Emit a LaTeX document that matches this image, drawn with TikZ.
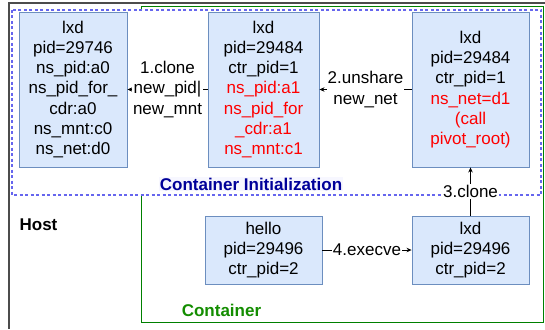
\documentclass[tikz,border=0pt]{standalone}
\usepackage{fontspec}
\setmainfont{Liberation Sans}
\usetikzlibrary{arrows.meta}
\definecolor{procfill}{HTML}{DAE8FC}
\definecolor{procline}{HTML}{6C8EBF}
\definecolor{initblue}{HTML}{6666EE}
\definecolor{initnavy}{HTML}{000099}
\definecolor{ctrgreen}{HTML}{008000}
\definecolor{nsred}{HTML}{FF0000}
\newcommand{\boxfont}{\fontsize{17}{20.3}\selectfont}
\tikzset{
  proc/.style={draw=procline, fill=procfill, line width=0.9pt, align=center,
    inner sep=0pt, font=\boxfont},
  call/.style={-{Stealth[length=5pt,width=4.5pt]}, line width=0.8pt},
  steplabel/.style={fill=white, inner sep=1pt, align=center, font=\boxfont},
  areatitle/.style={inner sep=1pt, font=\boxfont\bfseries}
}
\begin{document}
\begin{tikzpicture}[x=1pt,y=-1pt]
\useasboundingbox (0,0) rectangle (545,329);
% frames
\draw[black!70, line width=1.2pt] (545,3) -- (9,3) -- (9,329);
\draw[ctrgreen, line width=1pt] (141,6.5) rectangle (543,322);
\draw[initblue, fill=white, line width=1.2pt, dash pattern=on 3pt off 2.5pt] (12,10) rectangle (541,195);
% processes
\node[proc, minimum width=108pt, minimum height=155pt] (host) at (73,89.5)
  {lxd\\pid=29746\\ns\_pid:a0\\ns\_pid\_for\_\\cdr:a0\\ns\_mnt:c0\\ns\_net:d0};
\node[proc, minimum width=111pt, minimum height=155pt] (child) at (263.5,89.5)
  {lxd\\pid=29484\\ctr\_pid=1\\\textcolor{nsred}{ns\_pid:a1}\\\textcolor{nsred}{ns\_pid\_for}\\\textcolor{nsred}{\_cdr:a1}\\\textcolor{nsred}{ns\_mnt:c1}};
\node[proc, minimum width=117pt, minimum height=155pt] (init) at (470.5,89.5)
  {lxd\\pid=29484\\ctr\_pid=1\\\textcolor{nsred}{ns\_net=d1}\\\textcolor{nsred}{(call}\\\textcolor{nsred}{pivot\_root)}};
\node[proc, minimum width=117pt, minimum height=68pt] (hello) at (263.5,250)
  {hello\\pid=29496\\ctr\_pid=2};
\node[proc, minimum width=117pt, minimum height=68pt] (run) at (470.5,250)
  {lxd\\pid=29496\\ctr\_pid=2};
% steps
\draw[call] (child) -- node[steplabel] {1.clone\\new\_pid|\\new\_mnt} (host);
\draw[call] (init) -- node[steplabel] {2.unshare\\new\_net} (child);
\draw[call] (run) -- node[steplabel] {3.clone} (init);
\draw[call] (hello) -- node[steplabel] {4.execve} (run);
% area titles
\node[areatitle, text=initnavy, fill=blue!3] (inittitle) at (251,184) {Container Initialization};
\node[areatitle] (hosttitle) at (38.5,225) {Host};
\node[areatitle, text=ctrgreen!90!lime] (ctrtitle) at (221.5,310) {Container};
\end{tikzpicture}
\end{document}
